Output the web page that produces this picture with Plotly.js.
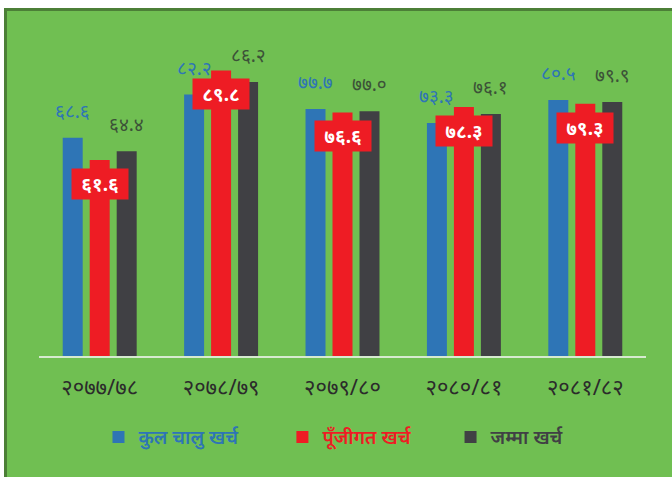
<!DOCTYPE html>
<html>
<head>
<meta charset="utf-8">
<script src="https://cdn.plot.ly/plotly-3.0.1.min.js"></script>
<style>
html,body{margin:0;padding:0;background:#ffffff;}
#frame{position:absolute;left:4px;top:8px;width:680px;height:480px;background:#70bf52;border:3px solid #4c7f37;box-sizing:border-box;}
#chart{position:absolute;left:0;top:0;width:672px;height:477px;}
</style>
</head>
<body>
<div id="frame"></div>
<div id="chart"></div>
<script>
const categories = ['२०७७/७८', '२०७८/७९', '२०७९/८०', '२०८०/८१', '२०८१/८२'];
const seriesNames = ['कुल चालु खर्च', 'पूँजीगत खर्च', 'जम्मा खर्च'];
const currentExp = [68.6, 82.2, 77.7, 73.3, 80.5];
const capitalExp = [61.6, 89.8, 76.6, 78.3, 79.3];
const totalExp = [64.4, 86.2, 77.0, 76.1, 79.9];
const currentLabels = ['६८.६', '८२.२', '७७.७', '७३.३', '८०.५'];
const capitalLabels = ['६१.६', '८९.८', '७६.६', '७८.३', '७९.३'];
const totalLabels = ['६४.४', '८६.२', '७७.०', '७६.१', '७९.९'];

const BLUE = '#2e75b6', RED = '#ee1c24', GRAY = '#404044';
const FONT = 'Noto Sans, "Noto Sans Devanagari", "Lohit Devanagari", FreeSans, sans-serif';

const traces = [
  {type:'bar', x:categories, y:currentExp, name:seriesNames[0], marker:{color:BLUE}, legend:'legend', hoverinfo:'skip'},
  {type:'bar', x:categories, y:capitalExp, name:seriesNames[1], marker:{color:RED}, legend:'legend2', hoverinfo:'skip'},
  {type:'bar', x:categories, y:totalExp, name:seriesNames[2], marker:{color:GRAY}, legend:'legend3', hoverinfo:'skip'}
];

const annotations = [];
categories.forEach((c, i) => {
  annotations.push({x:c, y:currentExp[i], xref:'x', yref:'y', text:currentLabels[i], showarrow:false,
    xshift:-27, yshift:12, yanchor:'bottom', font:{family:FONT, size:19, color:BLUE}});
  annotations.push({x:c, y:totalExp[i], xref:'x', yref:'y', text:totalLabels[i], showarrow:false,
    xshift:27, yshift:12, yanchor:'bottom', font:{family:FONT, size:19, color:'#3c5238'}});
  annotations.push({x:c, y:capitalExp[i], xref:'x', yref:'y', text:'<b>' + capitalLabels[i] + '</b>', showarrow:false,
    yshift:-8, yanchor:'top', bgcolor:RED, width:54, height:28, borderpad:1,
    font:{family:FONT, size:19, color:'#ffffff'}});
});

function legendCfg(xpos, color){
  return {x:xpos, y:-0.255, xref:'paper', yref:'paper', xanchor:'left', yanchor:'middle',
    orientation:'h', bgcolor:'rgba(0,0,0,0)', itemwidth:30,
    font:{family:FONT, size:19, color:color, weight:600}};
}

const layout = {
  width:672, height:477,
  margin:{l:39, r:26, t:38, b:121},
  paper_bgcolor:'rgba(0,0,0,0)', plot_bgcolor:'rgba(0,0,0,0)',
  barmode:'group', bargap:0.333, bargroupgap:0.26,
  showlegend:true,
  legend:legendCfg(0.098, BLUE),
  legend2:legendCfg(0.401, RED),
  legend3:legendCfg(0.678, GRAY),
  xaxis:{showline:true, linecolor:'#d6ead0', linewidth:2, ticks:'', showgrid:false, zeroline:false,
    ticklabelstandoff:11, tickfont:{family:FONT, size:22, color:'#2b2b2b'}},
  yaxis:{range:[0,100], showgrid:false, zeroline:false, showticklabels:false, showline:false},
  annotations:annotations,
  font:{family:FONT}
};

Plotly.newPlot('chart', traces, layout, {displayModeBar:false, staticPlot:true});
</script>
</body>
</html>
